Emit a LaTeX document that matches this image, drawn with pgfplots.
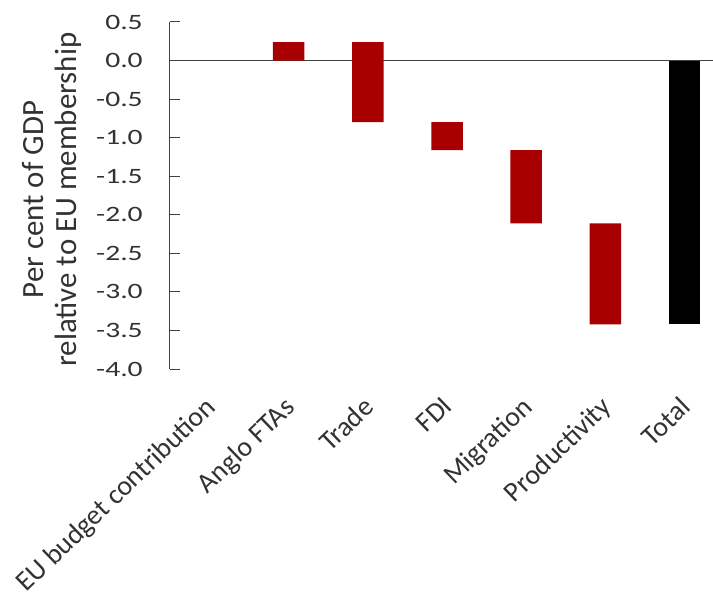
\documentclass[border=0pt]{standalone}
\usepackage{fontspec}
\setmainfont{Carlito}
\usepackage{pgfplots}
\pgfplotsset{compat=1.18}
\usepackage{pgfplotstable}

\definecolor{axisgrey}{RGB}{64,64,64}
\definecolor{textgrey}{RGB}{50,50,50}
\definecolor{barred}{RGB}{168,0,0}

% Waterfall: invisible base, red step, black total
\pgfplotstableread{
x  base   step  total
0  0.00   0.00  0.00
1  0.00   0.24  0.00
2  -0.80  1.04  0.00
3  -1.16  0.36  0.00
4  -2.11  0.95  0.00
5  -3.42  1.31  0.00
6  0.00   0.00  -3.42
}\waterfall

\begin{document}
\begin{tikzpicture}
\begin{axis}[
  scale only axis,
  width=543bp, height=347bp,
  xmin=-0.5, xmax=6.36,
  ymin=-4, ymax=0.5,
  ybar stacked,
  stack negative=on previous,
  bar width=31.5bp,
  axis lines*=left,
  axis line style={-, color=axisgrey, line width=1bp},
  x axis line style={draw=none},
  xtick=data,
  xticklabels={EU budget contribution, Anglo FTAs, Trade, FDI, Migration, Productivity, Total},
  xtick style={draw=none},
  xticklabel style={font=\fontsize{28}{32}\selectfont, text=textgrey, xshift=-6bp, yshift=-26bp, rotate=44, anchor=north east, inner sep=0pt},
  ytick={-4,-3.5,...,0.5},
  tick align=inside,
  ytick pos=left,
  major tick length=10bp,
  ytick style={color=axisgrey, line width=1bp},
  /pgf/number format/assume math mode=true,
  yticklabel style={font=\fontsize{22}{26}\selectfont, text=textgrey, anchor=east, inner sep=0pt, xshift=-27bp, xscale=1.35,
    /pgf/number format/.cd, fixed, fixed zerofill, precision=1},
  extra y ticks={0},
  extra y tick labels={},
  extra y tick style={grid=major, major grid style={color=axisgrey, line width=1bp}, major tick length=0pt},
  clip=false,
]
\addplot[draw=none, fill=none] table[x=x, y=base] {\waterfall};
\addplot[draw=none, fill=barred] table[x=x, y=step] {\waterfall};
\addplot[draw=none, fill=black] table[x=x, y=total] {\waterfall};
\node[font=\fontsize{31}{33}\selectfont, text=textgrey, align=center, xshift=-118bp, rotate=90]
  at (axis description cs:0,0.488) {Per cent of GDP\\relative to EU membership};
\end{axis}
\pgfresetboundingbox
\path (-170bp,-228bp) rectangle (543bp,369bp);
\end{tikzpicture}
\end{document}
